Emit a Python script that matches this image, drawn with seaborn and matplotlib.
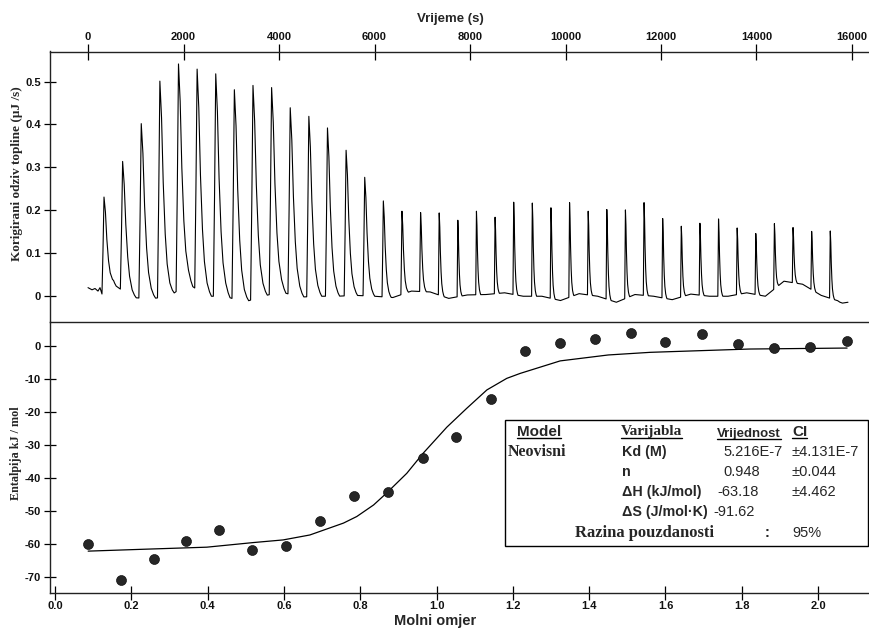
import numpy as np
import matplotlib
matplotlib.use("Agg")
import matplotlib.pyplot as plt
import matplotlib.transforms as mtransforms
from matplotlib.lines import Line2D
from matplotlib.patches import Rectangle
import seaborn as sns

# ---------------- data ----------------
# thermogram: injection times (s) and peak tops (uJ/s)
inj_time = [335, 725, 1115, 1505, 1895, 2285, 2675, 3065, 3455, 3845,
            4235, 4625, 5015, 5405, 5795, 6185, 6575, 6965, 7355, 7745,
            8135, 8525, 8915, 9305, 9695, 10085, 10475, 10865, 11255, 11645,
            12035, 12425, 12815, 13205, 13595, 13985, 14375, 14765, 15155, 15545]
peak_height = [0.231, 0.314, 0.402, 0.501, 0.541, 0.529, 0.518, 0.481, 0.491, 0.486,
               0.439, 0.419, 0.392, 0.340, 0.277, 0.222, 0.198, 0.195, 0.194, 0.177,
               0.198, 0.184, 0.219, 0.217, 0.206, 0.218, 0.198, 0.202, 0.201, 0.218,
               0.181, 0.163, 0.170, 0.180, 0.159, 0.146, 0.169, 0.160, 0.151, 0.152]
# relative decay width of each peak (1 = broad early peaks)
peak_width = [0.85, 0.95, 1.0, 1.0, 1.0, 1.0, 1.0, 1.0, 1.0, 1.0,
              0.95, 0.9, 0.85, 0.8, 0.7, 0.55, 0.45, 0.4, 0.35, 0.3,
              0.3, 0.3, 0.3, 0.3, 0.3, 0.3, 0.3, 0.3, 0.3, 0.3,
              0.3, 0.3, 0.3, 0.3, 0.3, 0.3, 0.3, 0.3, 0.3, 0.3]
# peak shape read from a broad peak: time offset (s) and fraction of height
shape_offset = [-50, -25, 0, 35, 70, 112, 153, 209, 260, 300]
shape_frac = [0.0, 0.45, 1.0, 0.83, 0.53, 0.29, 0.15, 0.06, 0.02, 0.0]
# baseline level in the middle of each gap after an injection (uJ/s)
gap_level = [0.028, -0.003, -0.006, 0.0, 0.03, 0.0, 0.0, -0.014, 0.0, 0.01,
             -0.002, 0.0, 0.0, 0.002, 0.0, -0.003, 0.012, 0.01, -0.005, 0.003,
             0.004, 0.008, 0.0, 0.0, -0.01, 0.006, 0.0, -0.014, 0.004, 0.0,
             -0.008, 0.005, 0.0, 0.0, 0.008, 0.0, 0.035, 0.028, 0.002, -0.012]
start_t = [0, 84, 147, 209, 251, 293]
start_y = [0.02, 0.015, 0.018, 0.012, 0.02, 0.005]
end_t = [15700, 15800, 15916]
end_y = [-0.012, -0.016, -0.014]

# binding isotherm
molar_ratio = [0.086, 0.172, 0.259, 0.344, 0.431, 0.517, 0.605, 0.695, 0.783, 0.872,
               0.964, 1.052, 1.143, 1.232, 1.324, 1.415, 1.510, 1.600, 1.696, 1.790,
               1.885, 1.980, 2.076]
enthalpy = [-60.0, -71.1, -64.7, -59.2, -55.9, -62.0, -60.7, -53.3, -45.6, -44.5,
            -34.2, -27.8, -16.1, -1.6, 0.8, 2.0, 3.8, 1.1, 3.5, 0.5,
            -0.7, -0.4, 1.4]
fit_x = [0.087, 0.240, 0.398, 0.520, 0.598, 0.668, 0.756, 0.791, 0.835, 0.869,
         0.922, 0.965, 1.027, 1.079, 1.132, 1.184, 1.219, 1.324, 1.450, 1.560,
         1.820, 2.076]
fit_y = [-62.3, -61.7, -61.1, -59.7, -58.9, -57.4, -53.8, -51.8, -48.3, -44.7,
         -38.7, -32.6, -24.7, -19.0, -13.4, -9.9, -8.4, -4.6, -2.8, -2.0,
         -1.0, -0.7]

top_ticks = [0, 2000, 4000, 6000, 8000, 10000, 12000, 14000, 16000]
upper_yticks = [0, 0.1, 0.2, 0.3, 0.4, 0.5]
upper_yticklabels = ["0", "0.1", "0.2", "0.3", "0.4", "0.5"]
lower_xticks = [0.0, 0.2, 0.4, 0.6, 0.8, 1.0, 1.2, 1.4, 1.6, 1.8, 2.0]
lower_yticks = [0, -10, -20, -30, -40, -50, -60, -70]

table_rows = [
    ("Neovisni", "Kd (M)", "5.216E-7", "±4.131E-7"),
    ("", "n", "0.948", "±0.044"),
    ("", "ΔH (kJ/mol)", "-63.18", "±4.462"),
    ("", "ΔS (J/mol·K)", "-91.62", ""),
]

# ---------------- build thermogram polyline ----------------
base_t = list(start_t) + [t - 40 for t in inj_time[:1]]
base_y = list(start_y) + [start_y[-1]]
for i, t in enumerate(inj_time):
    base_t.append(t + 200)
    base_y.append(gap_level[i])
base_t += end_t
base_y += end_y
base_t = np.array(base_t, float)
base_y = np.array(base_y, float)

pts = set(base_t.tolist())
for t, w in zip(inj_time, peak_width):
    for o in shape_offset:
        pts.add(t + o * w)
trace_t = np.array(sorted(pts))
trace_y = np.interp(trace_t, base_t, base_y)
for t, h, w in zip(inj_time, peak_height, peak_width):
    b0 = np.interp(t, base_t, base_y)
    contrib = np.interp(trace_t, t + np.array(shape_offset) * w, shape_frac, left=0, right=0)
    trace_y = trace_y + contrib * (h - b0)

# ---------------- figure ----------------
sns.set_theme(style="white")
plt.rcParams["font.family"] = ["Liberation Sans", "DejaVu Sans"]
W, H = 870, 629
fig = plt.figure(figsize=(W / 100, H / 100), dpi=100)

def fx(px):
    return px / W

def fy(py):
    return 1 - py / H

ax1 = fig.add_axes([fx(50), fy(322), fx(870) - fx(50), fy(51.5) - fy(322)])
ax2 = fig.add_axes([fx(50), fy(593), fx(870) - fx(50), fy(322) - fy(593)])
ax2.patch.set_alpha(0)

# upper panel
sns.lineplot(x=trace_t, y=trace_y, ax=ax1, color="black", lw=0.8,
             sort=False, estimator=None)
ax1.set_xlim(-796, 16377)
ax1.set_ylim(-0.06, 0.57)
ax1.xaxis.tick_top()
ax1.set_xticks(top_ticks)
ax1.set_xticklabels([str(v) for v in top_ticks])
ax1.set_yticks(upper_yticks)
ax1.set_yticklabels(upper_yticklabels)
ax1.tick_params(axis="x", top=True, bottom=False, direction="inout", length=11,
                width=0.9, labelsize=8, pad=1, colors="black")
ax1.tick_params(axis="y", left=True, direction="inout", length=9, width=0.9,
                labelsize=8, pad=2, colors="black")
ax1.spines["right"].set_visible(False)
ax1.spines["bottom"].set_visible(False)
for s in ["top", "left"]:
    ax1.spines[s].set_color("#222222")
    ax1.spines[s].set_linewidth(1.0)
ax1.set_xlabel("")
ax1.set_ylabel("")

# lower panel
sns.lineplot(x=fit_x, y=fit_y, ax=ax2, color="black", lw=0.9, sort=False,
             estimator=None)
sns.scatterplot(x=molar_ratio, y=enthalpy, ax=ax2, s=52, color="#262626",
                edgecolor="#000000", linewidth=0.4, zorder=3)
hl = sns.scatterplot(x=molar_ratio, y=enthalpy, ax=ax2, s=7, color="#b4b4b4",
                     edgecolor="none", alpha=0.9, zorder=4)
hl.collections[-1].set_transform(mtransforms.offset_copy(ax2.transData, fig=fig,
                                                         x=0, y=1.3, units="points"))
ax2.set_xlim(-0.013, 2.136)
ax2.set_ylim(-75, 7.2)
ax2.set_xticks(lower_xticks)
ax2.set_xticklabels([f"{v:.1f}" for v in lower_xticks])
ax2.set_yticks(lower_yticks)
ax2.set_yticklabels([str(v) for v in lower_yticks])
ax2.tick_params(axis="x", bottom=True, direction="inout", length=10, width=0.9,
                labelsize=8, pad=1, colors="black")
ax2.tick_params(axis="y", left=True, direction="inout", length=9, width=0.9,
                labelsize=8, pad=2, colors="black")
ax2.spines["right"].set_visible(False)
for s in ["left", "bottom", "top"]:
    ax2.spines[s].set_color("#222222")
    ax2.spines[s].set_linewidth(1.0)
ax2.set_xlabel("")
ax2.set_ylabel("")

for ax in (ax1, ax2):
    for lab in ax.get_xticklabels() + ax.get_yticklabels():
        lab.set_fontweight("bold")
        lab.set_color("#111111")

# axis titles
serif = ["Liberation Serif", "DejaVu Serif"]
fig.text(fx(450), fy(19), "Vrijeme (s)", ha="center", va="center",
         fontsize=9.5, fontweight="bold")
fig.text(fx(435), fy(621), "Molni omjer", ha="center", va="center",
         fontsize=10.5, fontweight="bold")
fig.text(fx(17), fy(174), "Korigirani odziv topline (µJ /s)", rotation=90,
         ha="center", va="center", fontsize=9.5, fontweight="bold", family=serif)
fig.text(fx(16), fy(453), "Entalpija kJ / mol", rotation=90,
         ha="center", va="center", fontsize=8.7, fontweight="bold", family=serif)

# parameter table
fig.add_artist(Rectangle((fx(505), fy(546)), fx(868) - fx(505), fy(420) - fy(546),
                         transform=fig.transFigure, facecolor="white",
                         edgecolor="black", lw=1.0, zorder=5))
underlined = []
underlined.append(fig.text(fx(517), fy(432), "Model", fontsize=11, fontweight="bold",
                           va="center", zorder=6))
underlined.append(fig.text(fx(621), fy(432), "Varijabla", fontsize=11,
                           fontweight="bold", family=serif, va="center", zorder=6))
underlined.append(fig.text(fx(717), fy(434), "Vrijednost", fontsize=9.5,
                           fontweight="bold", va="center", zorder=6))
underlined.append(fig.text(fx(792), fy(432), "CI", fontsize=11, fontweight="bold",
                           va="center", zorder=6))
row_y = [452, 472, 492, 512]
val_x = [723, 723, 717, 713]
for (m, var, val, ci), yy, vx in zip(table_rows, row_y, val_x):
    if m:
        fig.text(fx(508), fy(yy), m, fontsize=11.5, fontweight="bold",
                 family=serif, va="center", zorder=6)
    fig.text(fx(622), fy(yy), var, fontsize=10.3, fontweight="bold",
             va="center", zorder=6)
    fig.text(fx(vx), fy(yy), val, fontsize=10.5, va="center", zorder=6)
    if ci:
        fig.text(fx(792), fy(yy), ci, fontsize=10.5, va="center", zorder=6)
fig.text(fx(575), fy(533), "Razina pouzdanosti", fontsize=12, fontweight="bold",
         family=serif, va="center", zorder=6)
fig.text(fx(765), fy(533), ":", fontsize=10.5, fontweight="bold", va="center", zorder=6)
fig.text(fx(792), fy(533), "95%", fontsize=10.5, va="center", zorder=6)

fig.canvas.draw()
renderer = fig.canvas.get_renderer()
for t in underlined:
    bb = t.get_window_extent(renderer)
    yline = bb.y0 + 1.0
    fig.add_artist(Line2D([bb.x0 / fig.bbox.width, bb.x1 / fig.bbox.width],
                          [yline / fig.bbox.height, yline / fig.bbox.height],
                          transform=fig.transFigure, color="black", lw=1.0, zorder=7))

fig.savefig("out.png", dpi=100)
